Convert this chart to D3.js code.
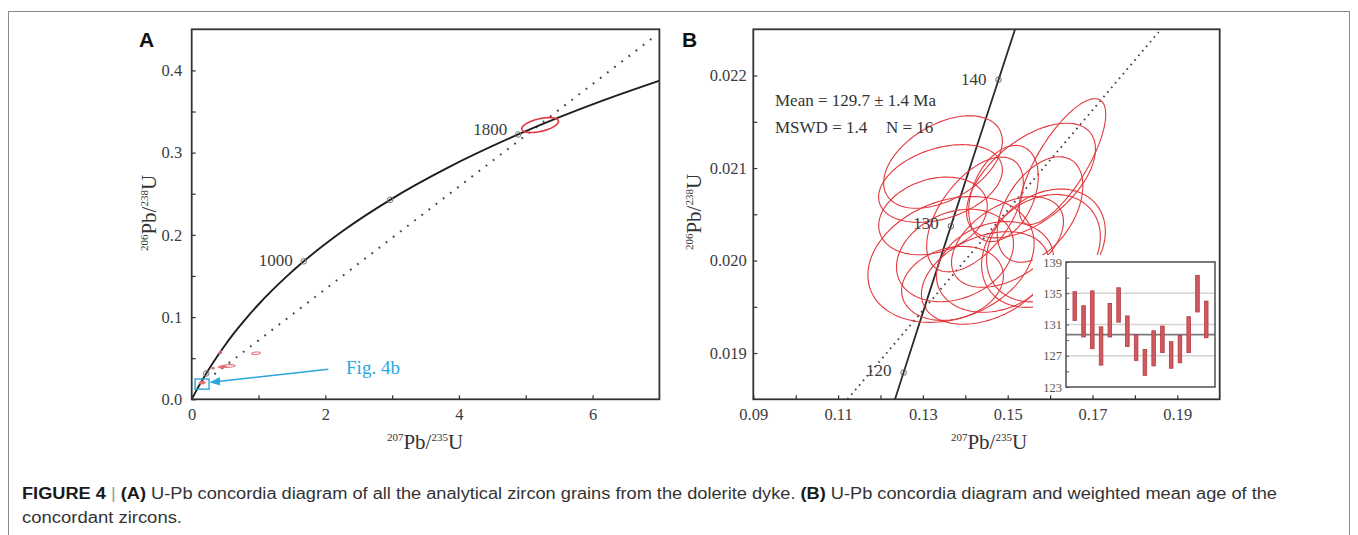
<!DOCTYPE html>
<html>
<head>
<meta charset="utf-8">
<script src="https://cdn.jsdelivr.net/npm/d3@7.9.0/dist/d3.min.js"></script>
<style>
  body { margin: 0; background: #fff; }
</style>
</head>
<body>
<svg id="chart"></svg>
<script>
// ---- data ----

// concordia curve, panel A (age in Ma, 207Pb/235U, 206Pb/238U)
const concAges = [0, 25, 50, 100, 150, 200, 300, 400, 500, 600, 700, 800, 900, 1000, 1200, 1400, 1600, 1800, 2000, 2112];
const concX = [0, 0.0249, 0.0505, 0.1035, 0.1592, 0.2177, 0.3437, 0.4828, 0.6362, 0.8057, 0.9925, 1.1988, 1.4264, 1.6774, 2.2603, 2.9699, 3.8344, 4.8863, 6.1684, 7.0036];
const concY = [0, 0.0039, 0.0078, 0.0156, 0.0235, 0.0315, 0.0476, 0.0640, 0.0807, 0.0975, 0.1147, 0.1321, 0.1498, 0.1678, 0.2046, 0.2426, 0.2817, 0.3221, 0.3638, 0.3876];
const markerAgesA = [200, 1000, 1400, 1800];
const labelAgesA = [1000, 1800];

// concordia segment, panel B
const concAgesB = [118, 120, 125, 130, 135, 140, 144];
const concXB = [0.12323, 0.12545, 0.13100, 0.13659, 0.14220, 0.14784, 0.15237];
const concYB = [0.018473, 0.018789, 0.019580, 0.020371, 0.021163, 0.021955, 0.022589];
const markerAgesB = [120, 130, 140];

// dotted reference lines
const dottedA = [[0.34, 0.0305], [6.92, 0.4408]];
const dottedB = [[0.1122, 0.0185], [0.1856, 0.02247]];

// error ellipses, panel A: centre, half-width x, half-height y, correlation
const ellA_cx = [5.215, 0.962, 0.55, 0.43, 0.46, 0.32, 0.15, 0.17];
const ellA_cy = [0.3335, 0.056, 0.0405, 0.057, 0.0395, 0.0378, 0.0205, 0.0200];
const ellA_sx = [0.275, 0.065, 0.10, 0.02, 0.06, 0.02, 0.04, 0.03];
const ellA_sy = [0.0091, 0.0016, 0.0017, 0.0018, 0.0013, 0.0010, 0.0015, 0.0012];
const ellA_rho = [0.5, 0.3, 0.3, 0.3, 0.3, 0.0, 0.5, 0.3];
const ellA_fill = [false, false, false, true, true, true, true, true];

// error ellipses, panel B (16 analyses)
const ellB_cx = [0.13474, 0.13415, 0.13238, 0.13663, 0.16292, 0.15550, 0.14901, 0.13757, 0.15903, 0.15785, 0.14465, 0.14700, 0.13698, 0.14995, 0.14229, 0.15762];
const ellB_cy = [0.021065, 0.020833, 0.020482, 0.020012, 0.021070, 0.020865, 0.020725, 0.020055, 0.020163, 0.020104, 0.019812, 0.019931, 0.019753, 0.020201, 0.020498, 0.020552];
const ellB_sx = [0.0140, 0.0146, 0.0128, 0.0196, 0.0102, 0.0152, 0.0082, 0.0138, 0.0140, 0.0140, 0.0150, 0.0138, 0.0120, 0.0132, 0.0114, 0.0101];
const ellB_sy = [0.00050, 0.00042, 0.00042, 0.00068, 0.00068, 0.00062, 0.00052, 0.00050, 0.00061, 0.00061, 0.00050, 0.00049, 0.00040, 0.00049, 0.00062, 0.00057];
const ellB_rho = [0.45, 0.35, 0.25, 0.25, 0.75, 0.55, 0.35, 0.25, 0.25, 0.25, 0.35, 0.2, 0.2, 0.45, 0.55, 0.45];

// weighted mean inset (ages in Ma)
const barLow  = [131.5, 129.4, 127.9, 125.8, 129.4, 131.3, 128.2, 126.4, 124.5, 125.7, 127.4, 125.4, 126.1, 127.4, 132.6, 129.3];
const barHigh = [135.2, 133.4, 135.3, 130.7, 133.7, 135.7, 132.1, 129.7, 127.8, 130.2, 130.8, 128.8, 129.6, 132.0, 137.3, 134.0];
const meanAge = 129.7;
const insetTicks = [123, 127, 131, 135, 139];
const insetGrid = [127, 131, 135];

// axis ticks
const xTicksA = [0, 1, 2, 3, 4, 5, 6];
const xLabelsA = [0, 2, 4, 6];
const yTicksA = [0, 0.05, 0.1, 0.15, 0.2, 0.25, 0.3, 0.35, 0.4];
const yLabelsA = [0, 0.1, 0.2, 0.3, 0.4];
const xTicksB = [0.09, 0.10, 0.11, 0.12, 0.13, 0.14, 0.15, 0.16, 0.17, 0.18, 0.19];
const xLabelsB = [0.09, 0.11, 0.13, 0.15, 0.17, 0.19];
const yTicksB = [0.019, 0.0195, 0.020, 0.0205, 0.021, 0.0215, 0.022];
const yLabelsB = [0.019, 0.020, 0.021, 0.022];

const statLines = ['Mean = 129.7 \u00b1 1.4 Ma', 'MSWD = 1.4', 'N = 16'];
const captionBold1 = 'FIGURE 4';
const captionParts = ['(A)', ' U-Pb concordia diagram of all the analytical zircon grains from the dolerite dyke. ', '(B)', ' U-Pb concordia diagram and weighted mean age of the'];
const captionLine2 = 'concordant zircons.';

// ---- drawing ----
const SERIF = '"Liberation Serif", "Times New Roman", serif';
const SANS = '"Liberation Sans", Arial, sans-serif';
const NARROW = '"Liberation Sans Narrow", "Arial Narrow", "Liberation Sans", Arial, sans-serif';

const W = 1358, H = 535;
const svg = d3.select('#chart').attr('width', W).attr('height', H).attr('font-family', SERIF);
svg.append('rect').attr('width', W).attr('height', H).attr('fill', '#fff');
svg.append('rect')
    .attr('x', 8.5).attr('y', 11.5).attr('width', 1341).attr('height', 600)
    .attr('fill', 'none').attr('stroke', '#8a8a8a').attr('stroke-width', 1);

const boxA = { left: 191.7, right: 659.4, top: 29.3, bottom: 399.3 };
const boxB = { left: 753.3, right: 1219.7, top: 29.3, bottom: 399.3 };

const xA = d3.scaleLinear().domain([0, 7]).range([boxA.left, boxA.right]);
const yA = d3.scaleLinear().domain([0, 0.45]).range([boxA.bottom, boxA.top]);
const xB = d3.scaleLinear().domain([0.09, 0.20]).range([boxB.left, boxB.right]);
const yB = d3.scaleLinear().domain([0.0185, 0.0225]).range([boxB.bottom, boxB.top]);

const near = (arr, d) => arr.some(v => Math.abs(v - d) < 1e-9);

function clipFor(id, box) {
    svg.append('clipPath').attr('id', id)
        .append('rect')
        .attr('x', box.left).attr('y', box.top)
        .attr('width', box.right - box.left).attr('height', box.bottom - box.top);
}
clipFor('clipA', boxA);
clipFor('clipB', boxB);

function ellipsePts(cx, cy, sx, sy, rho) {
    const s = Math.sqrt(1 - rho * rho);
    return d3.range(0, 361, 3).map(a => {
        const t = a * Math.PI / 180;
        return [cx + sx * Math.cos(t), cy + sy * (rho * Math.cos(t) + s * Math.sin(t))];
    });
}

function drawAxes(box, x, y, xt, xl, xf, yt, yl, yf, yPad) {
    const gx = svg.append('g')
        .attr('transform', `translate(0,${box.bottom})`)
        .call(d3.axisBottom(x).tickValues(xt).tickSizeInner(-4).tickSizeOuter(0).tickPadding(9)
            .tickFormat(d => near(xl, d) ? xf(d) : ''));
    const gy = svg.append('g')
        .attr('transform', `translate(${box.left},0)`)
        .call(d3.axisLeft(y).tickValues(yt).tickSizeInner(-4).tickSizeOuter(0).tickPadding(yPad)
            .tickFormat(d => near(yl, d) ? yf(d) : ''));
    [gx, gy].forEach(g => {
        g.select('.domain').remove();
        g.attr('color', '#333').attr('font-family', SERIF).attr('font-size', 16.5);
        g.selectAll('line').attr('stroke-width', 1.2);
        g.selectAll('text').attr('fill', '#3c3c3c');
    });
}

function axisTitle(xPos, yPos, rotate, sup1, main, sup2, tail) {
    const t = svg.append('text')
        .attr('transform', `translate(${xPos},${yPos})` + (rotate ? ' rotate(-90)' : ''))
        .attr('text-anchor', 'middle')
        .attr('fill', '#333')
        .attr('font-size', 21);
    t.append('tspan').attr('font-size', 11).attr('dy', -8).text(sup1);
    t.append('tspan').attr('dy', 8).text(main);
    t.append('tspan').attr('font-size', 11).attr('dy', -8).text(sup2);
    t.append('tspan').attr('dy', 8).text(tail);
}

function panelLabel(xPos, text) {
    svg.append('text')
        .attr('x', xPos).attr('y', 47)
        .attr('font-family', SANS)
        .attr('font-weight', 'bold').attr('font-size', 21)
        .attr('fill', '#111')
        .text(text);
}

// ---------- Panel A ----------
const gA = svg.append('g').attr('clip-path', 'url(#clipA)');
const line = (x, y) => d3.line().x(d => x(d[0])).y(d => y(d[1]));

gA.append('path')
    .datum(dottedA)
    .attr('d', line(xA, yA))
    .attr('fill', 'none').attr('stroke', '#444')
    .attr('stroke-width', 2).attr('stroke-dasharray', '1.8 7.2');

gA.append('path')
    .datum(d3.zip(concX, concY))
    .attr('d', line(xA, yA).curve(d3.curveMonotoneX))
    .attr('fill', 'none').attr('stroke', '#1e1e1e').attr('stroke-width', 1.9);

ellA_cx.forEach((cx, i) => {
    gA.append('path')
        .datum(ellipsePts(cx, ellA_cy[i], ellA_sx[i], ellA_sy[i], ellA_rho[i]))
        .attr('d', line(xA, yA).curve(d3.curveLinearClosed))
        .attr('fill', ellA_fill[i] ? '#e0464c' : 'none')
        .attr('fill-opacity', 0.8)
        .attr('stroke', i === 0 ? '#e0363c' : '#e47a80')
        .attr('stroke-width', i === 0 ? 1.6 : 1.1);
});

markerAgesA.forEach(age => {
    const i = concAges.indexOf(age);
    gA.append('circle')
        .attr('cx', xA(concX[i])).attr('cy', yA(concY[i])).attr('r', 2.8)
        .attr('fill', 'none').attr('stroke', '#777').attr('stroke-width', 1);
});
labelAgesA.forEach(age => {
    const i = concAges.indexOf(age);
    svg.append('text')
        .attr('x', xA(concX[i]) - 11).attr('y', yA(concY[i]) + (age === 1800 ? 1 : 5))
        .attr('text-anchor', 'end').attr('font-size', 17).attr('fill', '#3c3c3c')
        .text(age);
});

// Fig. 4b locator box and arrow
const cyan = '#2ba6de';
svg.append('rect')
    .attr('x', xA(0.05)).attr('y', yA(0.0247))
    .attr('width', xA(0.26) - xA(0.05)).attr('height', yA(0.0123) - yA(0.0247))
    .attr('fill', 'none').attr('stroke', cyan).attr('stroke-width', 1.4);
svg.append('defs').append('marker')
    .attr('id', 'arrowhead').attr('viewBox', '0 0 10 10')
    .attr('refX', 9).attr('refY', 5).attr('markerWidth', 7).attr('markerHeight', 7)
    .attr('orient', 'auto')
    .append('path').attr('d', 'M0,1 L10,5 L0,9 Z').attr('fill', cyan);
svg.append('line')
    .attr('x1', xA(2.045)).attr('y1', yA(0.0365))
    .attr('x2', xA(0.285)).attr('y2', yA(0.0207))
    .attr('stroke', cyan).attr('stroke-width', 1.5)
    .attr('marker-end', 'url(#arrowhead)');
svg.append('text')
    .attr('x', xA(2.31)).attr('y', yA(0.0365) + 5)
    .attr('font-size', 19).attr('fill', cyan)
    .text('Fig. 4b');

drawAxes(boxA, xA, yA, xTicksA, xLabelsA, d3.format('d'), yTicksA, yLabelsA, d3.format('.1f'), 9.5);
svg.append('rect')
    .attr('x', boxA.left).attr('y', boxA.top)
    .attr('width', boxA.right - boxA.left).attr('height', boxA.bottom - boxA.top)
    .attr('fill', 'none').attr('stroke', '#333').attr('stroke-width', 1.8);
axisTitle(425, 449, false, '207', 'Pb/', '235', 'U');
axisTitle(156, 213, true, '206', 'Pb/', '238', 'U');
panelLabel(139, 'A');

// ---------- Panel B ----------
const gB = svg.append('g').attr('clip-path', 'url(#clipB)');

gB.append('path')
    .datum(dottedB)
    .attr('d', line(xB, yB))
    .attr('fill', 'none').attr('stroke', '#444')
    .attr('stroke-width', 1.8).attr('stroke-dasharray', '1.7 4.3');

gB.append('path')
    .datum(d3.zip(concXB, concYB))
    .attr('d', line(xB, yB).curve(d3.curveMonotoneX))
    .attr('fill', 'none').attr('stroke', '#2a2a2a').attr('stroke-width', 1.8);

ellB_cx.forEach((cx, i) => {
    gB.append('path')
        .datum(ellipsePts(cx, ellB_cy[i], ellB_sx[i], ellB_sy[i], ellB_rho[i]))
        .attr('d', line(xB, yB).curve(d3.curveLinearClosed))
        .attr('fill', 'none').attr('stroke', '#e2383e').attr('stroke-width', 1.1);
});

markerAgesB.forEach(age => {
    const i = concAgesB.indexOf(age);
    gB.append('circle')
        .attr('cx', xB(concXB[i])).attr('cy', yB(concYB[i])).attr('r', 2.8)
        .attr('fill', 'none').attr('stroke', '#666').attr('stroke-width', 1);
    svg.append('text')
        .attr('x', xB(concXB[i]) - 12).attr('y', yB(concYB[i]) + (age === 140 ? 5 : 3))
        .attr('text-anchor', 'end').attr('font-size', 17).attr('fill', '#3c3c3c')
        .text(age);
});

svg.append('text').attr('x', 775).attr('y', 106)
    .attr('font-size', 17).attr('fill', '#333').text(statLines[0]);
svg.append('text').attr('x', 775).attr('y', 133)
    .attr('font-size', 17).attr('fill', '#333').text(statLines[1]);
svg.append('text').attr('x', 886).attr('y', 133)
    .attr('font-size', 17).attr('fill', '#333').text(statLines[2]);

// inset: weighted mean ages
const inset = { left: 1066, right: 1215, top: 262, bottom: 387 };
svg.append('rect')
    .attr('x', 1033).attr('y', 255)
    .attr('width', boxB.right - 1033).attr('height', 392 - 255)
    .attr('fill', '#fff');
const ix = d3.scaleLinear().domain([0, 17]).range([inset.left, inset.right]);
const iy = d3.scaleLinear().domain([123, 139]).range([inset.bottom, inset.top]);
const gI = svg.append('g');
insetGrid.forEach(v => {
    gI.append('line')
        .attr('x1', inset.left).attr('x2', inset.right)
        .attr('y1', iy(v)).attr('y2', iy(v))
        .attr('stroke', '#d4d4d4').attr('stroke-width', 1.5);
});
gI.append('line')
    .attr('x1', inset.left).attr('x2', inset.right)
    .attr('y1', iy(meanAge)).attr('y2', iy(meanAge))
    .attr('stroke', '#7a7a7a').attr('stroke-width', 1.6);
gI.selectAll('rect.bar')
    .data(barLow.map((lo, i) => ({ i: i + 1, lo, hi: barHigh[i] })))
    .join('rect')
    .attr('class', 'bar')
    .attr('x', d => ix(d.i) - 1.8).attr('width', 3.6)
    .attr('y', d => iy(d.hi)).attr('height', d => iy(d.lo) - iy(d.hi))
    .attr('fill', '#cf5a60').attr('stroke', '#b23a40').attr('stroke-width', 0.8);
const iAxis = gI.append('g')
    .attr('transform', `translate(${inset.left},0)`)
    .call(d3.axisLeft(iy).tickValues(d3.range(123, 140, 2)).tickSizeInner(-3).tickSizeOuter(0).tickPadding(4)
        .tickFormat(d => near(insetTicks, d) ? d : ''));
iAxis.select('.domain').remove();
iAxis.attr('color', '#555').attr('font-family', SERIF).attr('font-size', 12.5);
iAxis.selectAll('text').attr('fill', '#555');
gI.append('rect')
    .attr('x', inset.left).attr('y', inset.top)
    .attr('width', inset.right - inset.left).attr('height', inset.bottom - inset.top)
    .attr('fill', 'none').attr('stroke', '#444').attr('stroke-width', 1.4);

drawAxes(boxB, xB, yB, xTicksB, xLabelsB, d3.format('.2f'), yTicksB, yLabelsB, d3.format('.3f'), 6.5);
svg.append('rect')
    .attr('x', boxB.left).attr('y', boxB.top)
    .attr('width', boxB.right - boxB.left).attr('height', boxB.bottom - boxB.top)
    .attr('fill', 'none').attr('stroke', '#333').attr('stroke-width', 1.8);
axisTitle(989, 449, false, '207', 'Pb/', '235', 'U');
axisTitle(701, 212, true, '206', 'Pb/', '238', 'U');
panelLabel(682, 'B');

// ---------- caption ----------
const cap = svg.append('text')
    .attr('x', 22).attr('y', 499)
    .attr('font-family', NARROW)
    .attr('font-size', 16).attr('fill', '#333')
    .attr('textLength', 1255).attr('lengthAdjust', 'spacingAndGlyphs');
cap.append('tspan').attr('font-weight', 'bold').attr('fill', '#1a1a1a').text(captionBold1 + ' ');
cap.append('tspan').attr('fill', '#999').text('| ');
cap.append('tspan').attr('font-weight', 'bold').attr('fill', '#1a1a1a').text(captionParts[0]);
cap.append('tspan').text(captionParts[1]);
cap.append('tspan').attr('font-weight', 'bold').attr('fill', '#1a1a1a').text(captionParts[2]);
cap.append('tspan').text(captionParts[3]);
svg.append('text')
    .attr('x', 22).attr('y', 523)
    .attr('font-family', NARROW)
    .attr('font-size', 16).attr('fill', '#333')
    .attr('textLength', 160).attr('lengthAdjust', 'spacingAndGlyphs')
    .text(captionLine2);
</script>
</body>
</html>
